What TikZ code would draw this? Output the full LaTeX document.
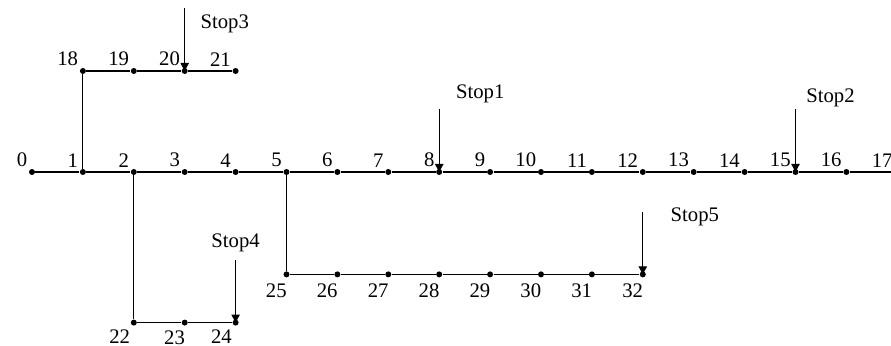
\documentclass[tikz,border=0pt]{standalone}
\usepackage{fontspec}
\setmainfont{Liberation Serif}
\usepackage{tikz}
\usetikzlibrary{arrows.meta, positioning}

\begin{document}
\begin{tikzpicture}[
    node distance=25.45pt,
    on grid,
    dot/.style={
        circle,
        fill=black,
        inner sep=0pt,
        minimum size=3pt
    },
    toplbl/.style={
        font=\fontsize{10.35}{12}\selectfont,
        inner sep=1pt
    },
    botlbl/.style={
        font=\fontsize{10.35}{12}\selectfont,
        inner sep=1pt,
        xshift=2.5pt,
        yshift=-2.5pt
    },
    stoplbl/.style={
        font=\fontsize{10.35}{12}\selectfont,
        inner sep=0pt
    },
    line/.style={line width=0.6pt},
    stoparrow/.style={-{Triangle[width=4.2pt,length=4pt]}, line width=0.5pt}
]
\useasboundingbox (-16pt,-87pt) rectangle (429.5pt,86pt);

% main feeder
\node[dot, label={[toplbl]above left:0}] (n0) at (0,0) {};
\node[dot, label={[toplbl]above left:1}, right=of n0] (n1) {};
\node[dot, label={[toplbl]above left:2}, right=of n1] (n2) {};
\node[dot, label={[toplbl]above left:3}, right=of n2] (n3) {};
\node[dot, label={[toplbl]above left:4}, right=of n3] (n4) {};
\node[dot, label={[toplbl]above left:5}, right=of n4] (n5) {};
\node[dot, label={[toplbl]above left:6}, right=of n5] (n6) {};
\node[dot, label={[toplbl]above left:7}, right=of n6] (n7) {};
\node[dot, label={[toplbl]above left:8}, right=of n7] (n8) {};
\node[dot, label={[toplbl]above left:9}, right=of n8] (n9) {};
\node[dot, label={[toplbl]above left:10}, right=of n9] (n10) {};
\node[dot, label={[toplbl]above left:11}, right=of n10] (n11) {};
\node[dot, label={[toplbl]above left:12}, right=of n11] (n12) {};
\node[dot, label={[toplbl]above left:13}, right=of n12] (n13) {};
\node[dot, label={[toplbl]above left:14}, right=of n13] (n14) {};
\node[dot, label={[toplbl]above left:15}, right=of n14] (n15) {};
\node[dot, label={[toplbl]above left:16}, right=of n15] (n16) {};
\node[dot, label={[toplbl]above left:17}, right=of n16] (n17) {};

% upper branch
\node[dot, label={[toplbl]above left:18}, above=50.5pt of n1] (n18) {};
\node[dot, label={[toplbl]above left:19}, right=of n18] (n19) {};
\node[dot, label={[toplbl]above left:20}, right=of n19] (n20) {};
\node[dot, label={[toplbl]above left:21}, right=of n20] (n21) {};

% lower branches
\node[dot, label={[botlbl, xshift=-2pt, yshift=1.5pt]below left:22}, below=75.3pt of n2] (n22) {};
\node[dot, label={[botlbl, yshift=1pt]below left:23}, right=of n22] (n23) {};
\node[dot, label={[botlbl, xshift=-2pt, yshift=1.5pt]below left:24}, right=of n23] (n24) {};
\node[dot, label={[botlbl]below left:25}, below=51.2pt of n5] (n25) {};
\node[dot, label={[botlbl]below left:26}, right=of n25] (n26) {};
\node[dot, label={[botlbl]below left:27}, right=of n26] (n27) {};
\node[dot, label={[botlbl]below left:28}, right=of n27] (n28) {};
\node[dot, label={[botlbl]below left:29}, right=of n28] (n29) {};
\node[dot, label={[botlbl]below left:30}, right=of n29] (n30) {};
\node[dot, label={[botlbl]below left:31}, right=of n30] (n31) {};
\node[dot, label={[botlbl]below left:32}, right=of n31] (n32) {};

\draw[line] (n0) -- (n1) -- (n2) -- (n3) -- (n4) -- (n5) -- (n6) -- (n7) -- (n8)
    -- (n9) -- (n10) -- (n11) -- (n12) -- (n13) -- (n14) -- (n15) -- (n16) -- (n17);
\draw[line] (n1) -- (n18) -- (n19) -- (n20) -- (n21);
\draw[line] (n2) -- (n22) -- (n23) -- (n24);
\draw[line] (n5) -- (n25) -- (n26) -- (n27) -- (n28) -- (n29) -- (n30) -- (n31) -- (n32);

% stops
\coordinate[above=31.5pt of n8] (s1);
\coordinate[above=31.5pt of n15] (s2);
\coordinate[above=31.5pt of n20] (s3);
\coordinate[above=31.4pt of n24] (s4);
\coordinate[above=31.4pt of n32] (s5);
\node[stoplbl, above right=7.5pt and 20.5pt of s1, anchor=center] (l1) {Stop1};
\node[stoplbl, above right=5.5pt and 17.5pt of s2, anchor=center] (l2) {Stop2};
\node[stoplbl, below right=8pt and 20pt of s3, anchor=center] (l3) {Stop3};
\node[stoplbl, above=8.5pt of s4, anchor=center] (l4) {Stop4};
\node[stoplbl, below right=2.5pt and 26pt of s5, anchor=center] (l5) {Stop5};

\draw[stoparrow] (s1) -- (n8.center);
\draw[stoparrow] (s2) -- (n15.center);
\draw[stoparrow] (s3) -- (n20.center);
\draw[stoparrow] (s4) -- (n24.center);
\draw[stoparrow] (s5) -- (n32.center);

\end{tikzpicture}
\end{document}
